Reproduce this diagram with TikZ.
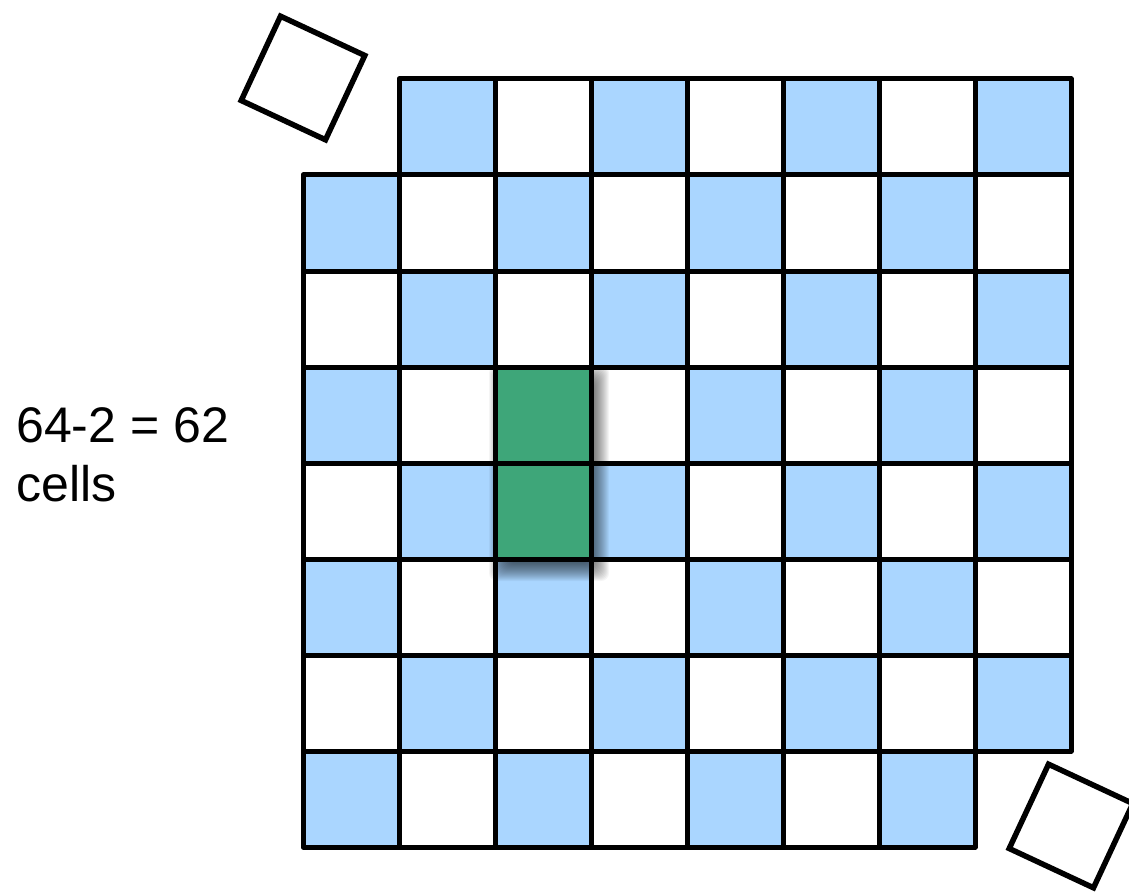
\documentclass[tikz,border=0pt]{standalone}
\usepackage{fontspec}
\setmainfont{Liberation Sans}
\definecolor{cellblue}{RGB}{170,214,255}
\definecolor{dominogreen}{RGB}{62,166,121}
\tikzset{
  cell/.style={draw=black, line width=5pt, line join=round},
  tile/.style={draw=black, line width=5.5pt, fill=white},
  shadowlayer/.style={fill=black, opacity=0.04, rounded corners=8pt},
}
\begin{document}
\begin{tikzpicture}[x=1pt, y=-1pt]
    \useasboundingbox (0,0) rectangle (1129,896);
    \clip (0,0) rectangle (1129,896);

    % Board: 8x8 cells, two opposite corners removed
    \foreach \r in {0,...,7} {
      \foreach \c in {0,...,7} {
        \pgfmathtruncatemacro{\parity}{mod(\r+\c,2)}
        \pgfmathtruncatemacro{\gone}{(\r==0 && \c==0) || (\r==7 && \c==7)}
        \ifnum\gone=0
          \ifnum\parity=1
            \filldraw[cell, fill=cellblue] (303+96*\c, 79+96*\r) rectangle ++(96,96);
          \else
            \filldraw[cell, fill=white] (303+96*\c, 79+96*\r) rectangle ++(96,96);
          \fi
        \fi
      }
    }

    % Soft shadow under the domino
    \foreach \k in {-7,...,12}
      \fill[shadowlayer] (501-\k, 377-\k) rectangle (597+\k, 569+\k);

    % Domino covering two cells
    \filldraw[cell, fill=dominogreen] (495,367) rectangle (591,559);
    \draw[cell] (495,463) -- (591,463);

    % The removed corner cells
    \draw[tile, rotate around={-25:(303,78)}] (256.5,31.5) rectangle (349.5,124.5);
    \draw[tile, rotate around={-25:(1071,826)}] (1024.5,779.5) rectangle (1117.5,872.5);

    % Count
    \node[anchor=north west, align=left, inner sep=0pt, font=\fontsize{50}{59}\selectfont] (count) at (16,407) {64-2 = 62\\cells};
  \end{tikzpicture}
\end{document}
